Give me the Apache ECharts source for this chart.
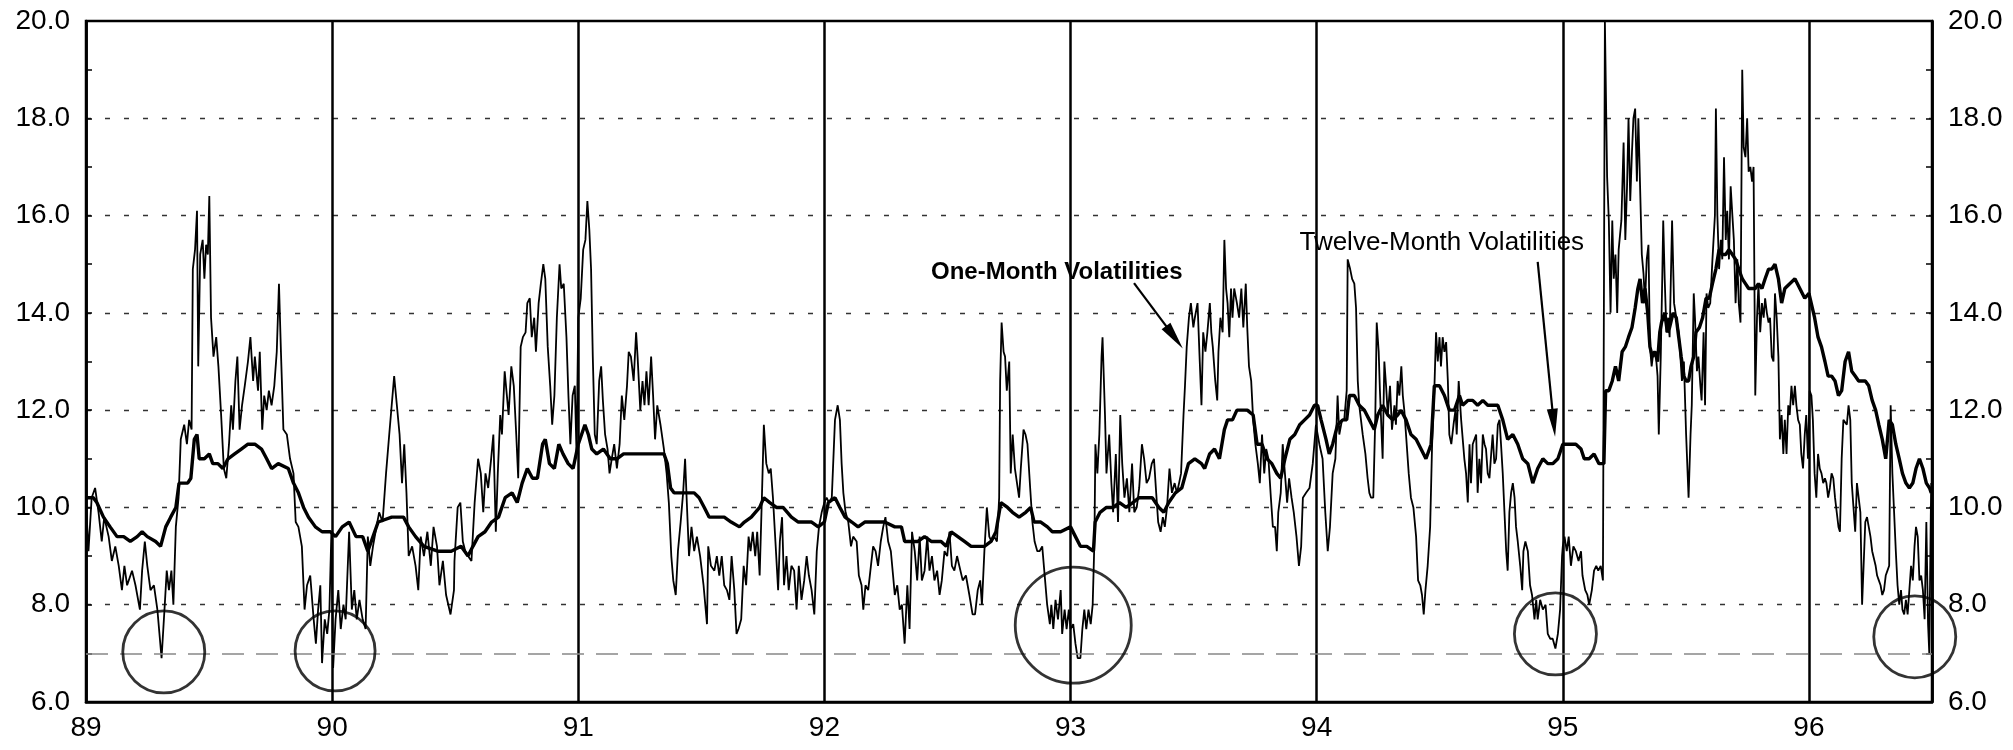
<!DOCTYPE html>
<html><head><meta charset="utf-8">
<script src="https://cdn.jsdelivr.net/npm/echarts@6/dist/echarts.min.js"></script>
<style>html,body{margin:0;padding:0;background:#fff}#c{width:2013px;height:750px}</style>
</head><body><div id="c"></div>
<script>
const yearLabels = ['89','90','91','92','93','94','95','96'];
const yTicks = [6,8,10,12,14,16,18,20];

const oneMonth = [
[89.000,10.1],[89.010,9.1],[89.023,10.2],[89.037,10.4],[89.051,9.9],[89.064,9.3],[89.074,9.8],[89.092,9.4],[89.105,8.9],[89.119,9.2],[89.133,8.8],[89.146,8.3],[89.156,8.8],[89.167,8.4],[89.187,8.7],[89.201,8.4],[89.219,7.9],[89.228,8.7],[89.239,9.3],[89.249,8.8],[89.262,8.3],[89.276,8.4],[89.290,7.9],[89.307,6.9],[89.320,8.0],[89.328,8.7],[89.337,8.3],[89.347,8.7],[89.355,8.0],[89.365,9.6],[89.376,10.2],[89.385,11.4],[89.399,11.7],[89.410,11.3],[89.419,11.8],[89.429,11.6],[89.434,14.9],[89.443,15.3],[89.451,16.1],[89.456,12.9],[89.464,15.2],[89.474,15.5],[89.481,14.7],[89.488,15.4],[89.495,15.2],[89.501,16.4],[89.508,13.9],[89.518,13.1],[89.529,13.5],[89.538,12.9],[89.549,11.9],[89.560,10.8],[89.570,10.6],[89.581,11.3],[89.590,12.1],[89.597,11.6],[89.607,12.6],[89.615,13.1],[89.624,11.6],[89.634,12.1],[89.645,12.5],[89.658,13.0],[89.668,13.5],[89.679,12.6],[89.686,13.1],[89.699,12.4],[89.706,13.2],[89.716,11.6],[89.724,12.3],[89.734,12.0],[89.743,12.4],[89.754,12.1],[89.765,12.5],[89.775,13.2],[89.784,14.6],[89.792,13.2],[89.802,11.6],[89.816,11.5],[89.829,11.0],[89.843,10.7],[89.852,9.7],[89.863,9.6],[89.877,9.2],[89.888,7.9],[89.898,8.4],[89.911,8.6],[89.925,7.7],[89.934,7.2],[89.943,7.9],[89.952,8.4],[89.959,6.8],[89.970,7.7],[89.980,7.4],[89.989,7.9],[89.997,9.5],[90.004,6.7],[90.014,7.7],[90.025,8.3],[90.035,7.5],[90.046,8.0],[90.055,7.7],[90.069,9.5],[90.080,7.9],[90.090,8.3],[90.100,7.7],[90.111,8.1],[90.124,7.7],[90.136,7.5],[90.145,9.4],[90.155,8.8],[90.166,9.2],[90.180,9.6],[90.191,9.9],[90.205,9.7],[90.219,10.7],[90.232,11.5],[90.242,12.1],[90.252,12.7],[90.263,12.1],[90.274,11.5],[90.284,10.5],[90.293,11.3],[90.302,10.3],[90.311,9.0],[90.325,9.2],[90.339,8.8],[90.350,8.3],[90.360,9.4],[90.373,9.0],[90.387,9.5],[90.401,8.8],[90.412,9.6],[90.426,9.2],[90.436,8.4],[90.450,8.9],[90.463,8.2],[90.481,7.8],[90.495,8.3],
[90.497,8.9],[90.510,10.0],[90.521,10.1],[90.531,9.3],[90.541,9.1],[90.552,9.0],[90.566,8.9],[90.579,10.1],[90.593,11.0],[90.604,10.7],[90.614,9.9],[90.623,10.7],[90.634,10.4],[90.646,11.0],[90.655,11.5],[90.665,9.5],[90.673,10.7],[90.683,11.9],[90.690,11.5],[90.701,12.8],[90.710,12.3],[90.717,11.9],[90.728,12.9],[90.738,12.5],[90.748,11.5],[90.756,10.6],[90.766,13.3],[90.775,13.5],[90.786,13.6],[90.793,14.2],[90.803,14.3],[90.811,13.5],[90.821,13.9],[90.828,13.2],[90.839,14.2],[90.848,14.6],[90.858,15.0],[90.866,14.7],[90.876,13.3],[90.886,12.5],[90.894,11.7],[90.903,12.3],[90.913,13.9],[90.924,15.0],[90.931,14.5],[90.941,14.6],[90.952,13.5],[90.960,12.3],[90.968,11.3],[90.977,12.3],[90.986,12.5],[90.993,11.1],[91.000,13.9],[91.010,14.3],[91.020,15.3],[91.029,15.5],[91.037,16.3],[91.045,15.7],[91.052,14.9],[91.059,13.1],[91.067,11.5],[91.075,11.3],[91.085,12.6],[91.093,12.9],[91.100,12.2],[91.109,11.5],[91.119,11.2],[91.127,10.7],[91.136,11.0],[91.146,11.3],[91.157,10.8],[91.168,11.3],[91.177,12.3],[91.187,11.8],[91.198,12.5],[91.205,13.2],[91.214,13.1],[91.225,12.6],[91.235,13.6],[91.241,13.1],[91.252,12.0],[91.261,12.6],[91.269,12.1],[91.277,12.8],[91.286,12.1],[91.296,13.1],[91.304,12.3],[91.312,11.4],[91.321,12.1],[91.334,11.7],[91.348,11.2],[91.359,10.7],[91.368,10.1],[91.378,9.0],[91.386,8.5],[91.396,8.2],[91.405,9.1],[91.416,9.7],[91.426,10.3],[91.434,11.0],[91.441,10.1],[91.450,9.0],[91.460,9.6],[91.471,9.1],[91.482,9.4],[91.495,9.0],[91.509,8.4],[91.523,7.6],[91.528,9.2],[91.539,8.8],[91.553,8.7],[91.563,9.0],[91.573,8.6],[91.583,9.0],[91.593,8.4],[91.604,8.3],[91.614,8.1],[91.623,9.0],[91.634,8.3],[91.643,7.4],[91.651,7.5],[91.662,7.7],[91.672,8.8],[91.682,8.4],[91.692,9.4],[91.700,9.1],[91.709,9.5],[91.719,9.0],[91.727,9.5],[91.737,8.6],[91.746,10.2],[91.754,11.7],[91.764,10.9],[91.774,10.7],[91.782,10.8],[91.791,10.2],[91.801,9.3],[91.812,8.3],[91.819,9.3],[91.828,9.8],[91.836,8.4],[91.846,9.0],[91.855,8.3],[91.866,8.8],[91.877,8.7],[91.887,7.9],[91.896,8.8],[91.907,8.1],[91.918,8.5],[91.928,9.0],[91.937,8.6],[91.948,8.3],[91.959,7.8],[91.969,9.1],[91.978,9.6],[91.989,9.9],[92.000,10.1],[92.009,10.2],[92.019,10.1],
[92.030,10.2],[92.043,11.8],[92.054,12.1],[92.063,11.8],[92.070,10.9],[92.077,10.3],[92.086,9.9],[92.097,9.7],[92.108,9.2],[92.117,9.4],[92.131,9.3],[92.140,8.6],[92.151,8.4],[92.158,7.9],[92.167,8.4],[92.178,8.3],[92.189,8.8],[92.198,9.2],[92.208,9.1],[92.218,8.8],[92.229,9.3],[92.239,9.6],[92.248,9.8],[92.259,9.3],[92.270,9.1],[92.279,8.6],[92.286,8.2],[92.296,8.4],[92.306,7.9],[92.315,8.0],[92.326,7.2],[92.337,8.4],[92.346,7.5],[92.356,9.5],[92.367,9.1],[92.377,8.5],[92.387,9.4],[92.396,8.5],[92.407,8.7],[92.418,9.4],[92.427,8.7],[92.437,9.0],[92.447,8.5],[92.458,8.7],[92.468,8.2],[92.477,8.5],[92.488,9.1],[92.499,9.0],[92.508,9.5],[92.518,8.8],[92.528,8.7],[92.539,9.0],[92.548,8.8],[92.562,8.5],[92.575,8.6],[92.589,8.2],[92.602,7.8],[92.612,7.8],[92.623,8.3],[92.633,8.5],[92.640,8.0],[92.650,9.1],[92.660,10.0],[92.670,9.4],[92.679,9.3],[92.690,9.4],[92.701,9.3],[92.710,10.2],[92.714,12.6],[92.720,13.8],[92.728,13.2],[92.734,13.1],[92.741,12.4],[92.751,13.0],[92.757,10.7],[92.765,11.5],[92.774,10.8],[92.782,10.8],[92.791,10.2],[92.798,10.8],[92.809,11.6],[92.817,11.5],[92.825,11.3],[92.836,10.4],[92.845,9.7],[92.854,9.3],[92.865,9.1],[92.874,9.1],[92.885,9.2],[92.895,8.6],[92.905,8.0],[92.916,7.6],[92.922,8.0],[92.930,7.5],[92.939,8.1],[92.949,7.7],[92.960,8.3],[92.966,7.4],[92.976,7.9],[92.984,7.5],[92.993,7.9],[93.000,7.5],[93.011,7.6],[93.020,7.2],[93.029,6.9],[93.040,6.9],[93.048,7.5],[93.056,7.9],[93.064,7.5],[93.073,7.9],[93.082,7.6],[93.090,8.0],[93.097,9.3],[93.101,11.3],[93.109,10.7],[93.117,11.5],[93.126,13.1],[93.130,13.5],[93.140,11.9],[93.146,10.7],[93.157,11.5],[93.166,10.5],[93.173,9.9],[93.184,11.1],[93.193,9.7],[93.202,11.9],[93.210,10.9],[93.219,10.2],[93.229,10.6],[93.239,9.9],[93.250,10.9],[93.259,9.9],[93.269,10.0],[93.279,10.4],[93.290,11.3],[93.299,11.0],[93.309,10.5],[93.319,10.6],[93.330,10.9],[93.339,11.0],[93.348,10.3],[93.356,9.7],[93.366,9.5],[93.375,9.8],[93.383,9.6],[93.392,10.0],[93.402,10.8],[93.412,10.3],[93.423,10.5],[93.432,10.3],[93.441,10.5],[93.449,10.7],[93.459,11.9],[93.465,12.5],[93.472,13.3],[93.481,13.9],[93.489,14.2],[93.499,13.7],
[93.505,13.9],[93.516,14.2],[93.525,13.0],[93.532,12.1],[93.539,13.6],[93.548,13.2],[93.556,13.6],[93.566,14.2],[93.572,13.6],[93.578,13.3],[93.588,12.6],[93.596,12.2],[93.601,13.2],[93.609,13.9],[93.618,13.6],[93.625,15.5],[93.632,14.5],[93.638,14.2],[93.645,13.5],[93.652,14.5],[93.658,13.9],[93.665,14.5],[93.676,14.2],[93.685,13.9],[93.694,14.5],[93.702,13.7],[93.712,14.6],[93.718,13.7],[93.725,12.9],[93.734,12.6],[93.742,11.8],[93.751,11.3],[93.761,10.9],[93.769,10.5],[93.778,11.5],[93.787,10.7],[93.795,11.2],[93.804,11.0],[93.814,10.2],[93.822,9.6],[93.831,9.6],[93.838,9.1],[93.844,9.9],[93.854,10.3],[93.862,11.3],[93.871,10.7],[93.880,10.1],[93.888,10.6],[93.898,10.2],[93.907,9.9],[93.918,9.4],[93.928,8.8],[93.937,9.2],[93.944,10.2],[93.957,10.3],[93.971,10.4],[93.984,10.9],[93.997,11.7],[94.011,11.3],[94.024,11.0],[94.035,9.9],[94.045,9.1],[94.054,9.6],[94.065,10.7],[94.076,11.0],[94.085,12.3],[94.092,11.5],[94.103,11.8],[94.112,11.8],[94.122,12.4],[94.126,15.1],[94.136,14.9],[94.144,14.7],[94.153,14.6],[94.160,14.1],[94.167,12.6],[94.173,12.1],[94.180,11.8],[94.187,11.5],[94.198,11.1],[94.207,10.6],[94.214,10.3],[94.221,10.2],[94.230,10.2],[94.238,11.8],[94.244,13.8],[94.252,13.2],[94.257,12.4],[94.268,11.0],[94.275,13.0],[94.282,12.5],[94.289,11.9],[94.298,12.5],[94.306,11.6],[94.316,12.1],[94.322,11.7],[94.329,12.6],[94.336,12.3],[94.344,12.9],[94.350,12.3],[94.356,12.0],[94.363,11.5],[94.374,10.7],[94.383,10.2],[94.393,10.0],[94.404,9.4],[94.412,8.5],[94.421,8.4],[94.428,8.2],[94.435,7.8],[94.442,8.3],[94.451,8.8],[94.461,9.6],[94.469,11.3],[94.478,12.4],[94.485,13.6],[94.492,13.0],[94.499,13.5],[94.505,12.9],[94.512,13.5],[94.519,13.2],[94.526,13.4],[94.533,12.6],[94.539,11.5],[94.547,11.3],[94.556,11.7],[94.564,12.0],[94.569,11.5],[94.577,12.6],[94.587,11.8],[94.593,11.8],[94.600,11.0],[94.607,10.7],[94.614,10.1],[94.621,11.3],[94.627,10.5],[94.634,11.3],[94.641,11.3],[94.648,11.5],[94.654,10.3],[94.661,11.0],[94.668,10.5],[94.675,11.5],[94.682,11.3],[94.688,11.2],[94.695,10.7],[94.702,10.6],[94.709,11.1],[94.715,11.5],[94.722,10.9],[94.729,11.0],[94.736,11.7],[94.743,11.8],[94.749,11.3],[94.756,10.7],[94.763,9.9],[94.770,9.1],[94.776,8.7],[94.783,9.9],[94.790,10.3],[94.797,10.5],[94.804,10.2],[94.810,9.6],[94.817,9.3],[94.827,8.8],[94.835,8.3],[94.840,9.1],[94.848,9.3],[94.858,9.1],[94.867,8.4],[94.875,8.2],[94.885,7.7],[94.892,8.1],[94.898,7.7],[94.908,8.1],[94.919,7.9],[94.930,8.0],[94.939,7.4],[94.949,7.3],[94.959,7.3],[94.970,7.1],[94.980,7.4],[94.989,7.9],[94.997,9.0],
[95.000,9.2],[95.007,9.4],[95.016,9.1],[95.024,9.4],[95.033,8.8],[95.043,9.2],[95.053,9.1],[95.064,8.9],[95.074,9.1],[95.080,8.6],[95.091,8.3],[95.100,8.2],[95.107,8.0],[95.118,8.3],[95.127,8.7],[95.136,8.8],[95.144,8.7],[95.154,8.8],[95.163,8.5],[95.171,20.0],[95.180,16.8],[95.187,15.9],[95.194,14.0],[95.201,15.9],[95.207,14.7],[95.214,15.2],[95.221,14.0],[95.227,15.3],[95.238,15.9],[95.247,17.5],[95.254,15.5],[95.261,16.6],[95.267,18.0],[95.274,16.3],[95.281,17.3],[95.287,18.0],[95.294,18.2],[95.301,16.7],[95.307,18.0],[95.314,18.0],[95.321,15.2],[95.328,14.8],[95.334,14.2],[95.341,15.1],[95.348,15.4],[95.354,13.3],[95.361,12.9],[95.368,13.2],[95.377,13.2],[95.385,12.7],[95.390,11.5],[95.398,13.1],[95.404,14.7],[95.408,15.9],[95.414,14.7],[95.421,13.6],[95.428,13.9],[95.434,13.5],[95.444,15.9],[95.452,14.2],[95.461,13.9],[95.471,13.6],[95.479,13.0],[95.484,12.6],[95.492,13.0],[95.501,11.5],[95.511,10.2],[95.519,11.5],[95.524,12.1],[95.532,14.4],[95.537,13.9],[95.545,12.8],[95.551,13.1],[95.559,12.5],[95.564,12.2],[95.572,13.6],[95.578,12.1],[95.584,14.4],[95.591,14.1],[95.599,14.2],[95.608,15.1],[95.618,16.0],[95.622,18.2],[95.628,16.0],[95.635,14.9],[95.642,15.5],[95.648,15.1],[95.655,17.2],[95.662,15.5],[95.668,16.1],[95.675,15.1],[95.682,16.6],[95.689,16.0],[95.695,15.5],[95.702,14.2],[95.709,15.1],[95.715,14.2],[95.722,13.8],[95.729,19.0],[95.735,17.4],[95.742,17.2],[95.749,18.0],[95.755,16.9],[95.762,17.0],[95.769,16.7],[95.775,17.0],[95.782,12.3],[95.789,13.9],[95.795,14.6],[95.802,13.6],[95.809,14.2],[95.816,13.9],[95.822,14.3],[95.829,14.0],[95.836,13.8],[95.842,13.9],[95.849,13.1],[95.856,13.0],[95.862,14.4],[95.869,13.9],[95.876,13.1],[95.882,11.4],[95.889,11.9],[95.896,11.1],[95.902,11.8],[95.909,11.1],[95.916,12.1],[95.922,11.9],[95.929,12.5],[95.936,12.1],[95.943,12.5],[95.949,12.1],[95.956,11.8],[95.963,11.7],[95.969,11.1],[95.976,10.8],[95.983,11.5],[95.989,11.9],[95.996,11.0],[96.003,12.4],[96.010,12.3],[96.016,11.8],[96.023,10.7],[96.030,10.2],[96.037,11.1],[96.044,10.8],[96.051,10.7],[96.058,10.5],[96.065,10.6],[96.071,10.5],[96.078,10.2],[96.085,10.4],[96.092,10.7],[96.099,10.6],[96.106,10.2],[96.113,9.9],[96.120,9.6],[96.126,9.5],[96.133,11.0],[96.140,11.8],[96.147,11.8],[96.154,11.7],[96.161,12.1],[96.168,11.8],[96.174,10.5],[96.181,10.5],[96.188,9.5],[96.195,10.5],[96.202,10.2],[96.209,9.9],[96.216,8.0],[96.223,8.0],[96.229,9.7],[96.236,9.8],[96.243,9.6],[96.250,9.4],[96.257,9.1],[96.264,9.1],[96.271,8.8],[96.277,8.6],[96.284,8.5],[96.291,8.4],[96.298,8.2],[96.305,8.3],[96.312,8.6],[96.319,8.7],[96.326,8.8],[96.332,12.1],[96.339,10.7],[96.346,9.9],[96.353,9.1],[96.360,8.4],[96.367,8.0],[96.374,8.3],[96.380,7.9],[96.387,7.8],[96.394,8.1],[96.401,7.8],[96.408,8.3],[96.415,8.8],[96.422,8.5],[96.429,9.2],[96.435,9.6],[96.442,9.4],[96.449,8.5],[96.456,8.6],[96.463,8.3],[96.470,7.7],[96.477,9.7],[96.484,7.6],[96.489,7.0],[96.495,9.8],[96.497,10.5]
];

const twelveMonth = [
[89.000,10.2],[89.030,10.2],[89.044,10.1],[89.071,9.8],[89.098,9.6],[89.126,9.4],[89.153,9.4],[89.180,9.3],[89.208,9.4],[89.228,9.5],[89.249,9.4],[89.283,9.3],[89.303,9.2],[89.324,9.6],[89.344,9.8],[89.365,10.0],[89.378,10.5],[89.413,10.5],[89.426,10.6],[89.440,11.4],[89.451,11.5],[89.460,11.0],[89.481,11.0],[89.501,11.1],[89.515,10.9],[89.536,10.9],[89.556,10.8],[89.577,11.0],[89.604,11.1],[89.631,11.2],[89.658,11.3],[89.686,11.3],[89.713,11.2],[89.734,11.0],[89.754,10.8],[89.781,10.9],[89.822,10.8],[89.843,10.5],[89.863,10.3],[89.884,10.0],[89.904,9.8],[89.932,9.6],[89.959,9.5],[89.993,9.5],[90.014,9.4],[90.041,9.6],[90.069,9.7],[90.097,9.4],[90.124,9.4],[90.145,9.1],[90.166,9.4],[90.187,9.7],[90.242,9.8],[90.290,9.8],[90.311,9.6],[90.339,9.4],[90.373,9.2],[90.429,9.1],[90.484,9.1],
[90.524,9.2],[90.552,9.0],[90.572,9.2],[90.593,9.4],[90.621,9.5],[90.648,9.7],[90.676,9.8],[90.703,10.2],[90.731,10.3],[90.752,10.1],[90.772,10.5],[90.793,10.8],[90.814,10.6],[90.834,10.6],[90.855,11.3],[90.866,11.4],[90.883,10.9],[90.903,10.8],[90.921,11.3],[90.938,11.1],[90.959,10.9],[90.979,10.8],[91.000,11.3],[91.027,11.7],[91.041,11.5],[91.055,11.2],[91.075,11.1],[91.102,11.2],[91.130,11.0],[91.157,11.0],[91.184,11.1],[91.211,11.1],[91.239,11.1],[91.266,11.1],[91.293,11.1],[91.321,11.1],[91.348,11.1],[91.362,10.9],[91.375,10.4],[91.389,10.3],[91.443,10.3],[91.471,10.3],[91.491,10.2],[91.512,10.0],[91.532,9.8],[91.566,9.8],[91.593,9.8],[91.621,9.7],[91.655,9.6],[91.675,9.7],[91.703,9.8],[91.737,10.0],[91.754,10.2],[91.778,10.1],[91.805,10.0],[91.832,10.0],[91.866,9.8],[91.894,9.7],[91.921,9.7],[91.948,9.7],[91.975,9.6],[92.000,9.7],[92.016,10.1],[92.043,10.2],
[92.063,10.0],[92.084,9.8],[92.111,9.7],[92.137,9.6],[92.164,9.7],[92.205,9.7],[92.245,9.7],[92.286,9.6],[92.313,9.6],[92.326,9.3],[92.353,9.3],[92.380,9.3],[92.407,9.4],[92.434,9.3],[92.474,9.3],[92.495,9.2],[92.515,9.5],[92.542,9.4],[92.569,9.3],[92.596,9.2],[92.623,9.2],[92.650,9.2],[92.677,9.3],[92.697,9.5],[92.717,10.1],[92.744,10.0],[92.764,9.9],[92.791,9.8],[92.818,9.9],[92.838,10.0],[92.852,9.7],[92.879,9.7],[92.906,9.6],[92.926,9.5],[92.960,9.5],[93.000,9.6],[93.020,9.4],[93.040,9.2],[93.066,9.2],[93.093,9.1],[93.100,9.7],[93.120,9.9],[93.146,10.0],[93.173,10.0],[93.199,10.1],[93.226,10.0],[93.253,10.1],[93.279,10.2],[93.306,10.2],[93.332,10.2],[93.359,10.0],[93.379,9.9],[93.399,10.1],[93.426,10.3],[93.452,10.4],[93.479,10.9],[93.505,11.0],[93.532,10.9],
[93.545,10.8],[93.565,11.1],[93.585,11.2],[93.605,11.0],[93.625,11.6],[93.638,11.8],[93.658,11.8],[93.676,12.0],[93.698,12.0],[93.718,12.0],[93.742,11.9],[93.758,11.3],[93.778,11.3],[93.798,11.0],[93.818,10.9],[93.838,10.7],[93.854,10.6],[93.871,11.0],[93.891,11.4],[93.911,11.5],[93.931,11.7],[93.951,11.8],[93.971,11.9],[93.991,12.1],[94.004,12.1],[94.018,11.8],[94.038,11.4],[94.051,11.1],[94.065,11.3],[94.085,11.7],[94.106,11.8],[94.122,11.8],[94.133,12.3],[94.153,12.3],[94.173,12.1],[94.194,12.0],[94.214,11.8],[94.234,11.6],[94.248,11.9],[94.268,12.1],[94.289,11.9],[94.309,11.8],[94.329,11.9],[94.343,12.0],[94.363,11.8],[94.383,11.5],[94.404,11.4],[94.424,11.2],[94.444,11.0],[94.465,11.3],[94.478,12.5],[94.499,12.5],[94.519,12.3],[94.539,12.0],[94.560,12.0],[94.580,12.3],[94.593,12.1],[94.614,12.2],[94.634,12.2],[94.654,12.1],[94.675,12.2],[94.695,12.1],[94.715,12.1],[94.736,12.1],[94.756,11.8],[94.776,11.4],[94.797,11.5],[94.817,11.3],[94.837,11.0],[94.858,10.9],[94.878,10.5],[94.898,10.8],[94.919,11.0],[94.939,10.9],[94.959,10.9],[94.980,11.0],[95.000,11.3],
[95.027,11.3],[95.053,11.3],[95.074,11.2],[95.087,11.0],[95.107,11.0],[95.127,11.1],[95.147,10.9],[95.167,10.9],[95.174,12.4],[95.187,12.4],[95.201,12.6],[95.214,12.9],[95.227,12.6],[95.241,13.2],[95.254,13.3],[95.267,13.5],[95.281,13.7],[95.294,14.1],[95.305,14.5],[95.314,14.7],[95.324,14.2],[95.334,14.5],[95.345,14.0],[95.354,13.3],[95.364,13.1],[95.374,13.2],[95.385,13.0],[95.394,13.6],[95.401,13.8],[95.414,14.0],[95.425,13.6],[95.434,13.7],[95.448,14.0],[95.461,13.9],[95.471,13.5],[95.481,13.1],[95.492,12.7],[95.501,12.6],[95.511,12.6],[95.521,12.9],[95.532,13.1],[95.541,13.6],[95.555,13.7],[95.568,13.9],[95.582,14.3],[95.595,14.3],[95.608,14.6],[95.622,14.9],[95.635,15.3],[95.648,15.2],[95.662,15.2],[95.675,15.3],[95.689,15.2],[95.702,15.1],[95.715,14.9],[95.729,14.7],[95.742,14.6],[95.755,14.5],[95.769,14.5],[95.782,14.5],[95.795,14.6],[95.809,14.5],[95.822,14.7],[95.836,14.9],[95.849,14.9],[95.862,15.0],[95.876,14.7],[95.889,14.2],[95.902,14.5],[95.922,14.6],[95.943,14.7],[95.963,14.5],[95.983,14.3],[96.000,14.4],[96.023,13.9],[96.037,13.5],[96.051,13.3],[96.065,13.0],[96.078,12.7],[96.092,12.7],[96.106,12.6],[96.120,12.3],[96.133,12.4],[96.147,13.0],[96.161,13.2],[96.174,12.8],[96.188,12.7],[96.202,12.6],[96.216,12.6],[96.229,12.6],[96.243,12.5],[96.257,12.2],[96.271,12.0],[96.284,11.7],[96.298,11.4],[96.312,11.0],[96.326,11.8],[96.339,11.7],[96.353,11.3],[96.367,11.0],[96.380,10.7],[96.394,10.5],[96.408,10.4],[96.422,10.5],[96.435,10.8],[96.449,11.0],[96.463,10.8],[96.477,10.5],[96.490,10.4],[96.497,10.3]
];

// annotation anchors (data coordinates)
const lowCircles = [[89.316,7.03],[90.012,7.05],[93.011,7.58],[94.970,7.40],[96.430,7.34]];
const floorLevel = 7.0;
const annotations = [
  {text:'One-Month Volatilities', at:[92.433,14.84], bold:true},
  {text:'Twelve-Month Volatilities', at:[93.930,15.44], bold:false}
];
const arrows = [
  [[93.258,14.61],[93.422,13.50]],
  [[94.898,15.05],[94.963,11.74]]
];

// styles
const circleSizes = [82, 80, 116, 82, 82];
const FONT = '"Liberation Sans", Arial, Helvetica, sans-serif';
const INK = '#000';

const chart = echarts.init(document.getElementById('c'), null, {renderer:'canvas'});
const gridColors = yTicks.map((v,i)=> (i===0||i===yTicks.length-1) ? 'rgba(0,0,0,0)' : '#333');

const yAxisBase = (pos) => ({
  type:'value', min:6, max:20, interval:2, position:pos,
  axisLine:{show:true, onZero:false, lineStyle:{color:INK, width:2.5}},
  axisTick:{show:true, inside:true, length:6, lineStyle:{color:INK, width:1.5}},
  minorTick:{show:true, splitNumber:2, length:6, lineStyle:{color:INK, width:1.5}},
  axisLabel:{fontSize:28, color:INK, fontFamily:FONT, margin:16, formatter:v=>v.toFixed(1)},
  splitLine:{show: pos==='left', lineStyle:{color:gridColors, type:[5,14], width:1.4}}
});

const option = {
  animation:false,
  backgroundColor:'#fff',
  grid:{left:86, right:81, top:21, bottom:48, show:true, borderColor:INK, borderWidth:2.5, backgroundColor:'rgba(0,0,0,0)'},
  xAxis:{
    type:'value', min:89, max:96.5, interval:1,
    axisLine:{show:true, onZero:false, lineStyle:{color:INK, width:2.5}},
    axisTick:{show:false},
    axisLabel:{fontSize:28, color:INK, fontFamily:FONT, margin:12, showMaxLabel:false,
      formatter:v=> Number.isInteger(v) ? yearLabels[v-89] : ''},
    splitLine:{show:true, lineStyle:{color:INK, width:2.5}}
  },
  yAxis:[yAxisBase('left'), yAxisBase('right')],
  series:[
    {
      type:'line', name:'One-Month', data:oneMonth, symbol:'none', showSymbol:false,
      lineStyle:{color:INK, width:1.8}, z:3,
      markLine:{silent:true, symbol:['none','none'], label:{show:false},
        lineStyle:{color:'#888', type:[22,12], width:1.6},
        data:[{yAxis:floorLevel}]}
    },
    {
      type:'line', name:'Twelve-Month', data:twelveMonth, symbol:'none', showSymbol:false,
      lineStyle:{color:INK, width:3.4}, z:4
    },
    {
      type:'scatter', name:'lows', silent:true, z:5,
      data: lowCircles.map((p,i)=>({value:p, symbolSize:circleSizes[i]})),
      itemStyle:{color:'rgba(0,0,0,0)', borderColor:INK, borderWidth:2.8},
      markLine:{silent:true, label:{show:false}, symbol:['none','none'],
        lineStyle:{color:INK, width:2.2, type:'solid'},
        data: arrows.map(a=>[
          {coord:a[0], symbol:'none'},
          {coord:a[1], symbol:'path://M5,0L10,26L0,26Z', symbolSize:[11,28]}
        ])}
    }
  ]
};
chart.setOption(option);

const graphics = annotations.map(a=>{
  const p = chart.convertToPixel({gridIndex:0}, a.at);
  return {type:'text', x:p[0], y:p[1], z:10, style:{text:a.text, fill:INK,
    fontFamily:FONT, fontSize: a.bold ? 24 : 26, fontWeight: a.bold ? 'bold' : 'normal',
    align:'left', verticalAlign:'middle'}};
});
chart.setOption({graphic:graphics});
</script>
</body></html>
